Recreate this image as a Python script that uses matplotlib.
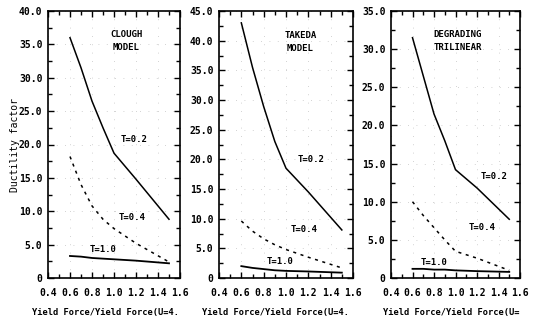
'''
Ductility factor against yield force ratio
for three hysteresis models
'''

###########################################
import numpy as np
import matplotlib.pyplot as plt
from matplotlib.ticker import MultipleLocator, FixedLocator


###########################################
# data

forceRatio=[0.6,0.7,0.8,0.9,1.0,1.2,1.5]

cloughT02=[36.0,31.5,26.5,22.5,18.7,14.8,8.8]
cloughT04=[18.2,14.0,10.8,8.8,7.4,5.2,2.4]
cloughT10=[3.3,3.2,3.0,2.9,2.8,2.6,2.2]

takedaT02=[43.0,35.5,28.9,23.0,18.5,14.5,8.1]
takedaT04=[9.6,7.9,6.6,5.6,4.8,3.5,1.7]
takedaT10=[2.0,1.7,1.5,1.3,1.2,1.1,0.9]

trilinT02=[31.5,26.5,21.5,18.0,14.2,11.8,7.7]
trilinT04=[10.0,8.2,6.6,5.0,3.5,2.6,1.0]
trilinT10=[1.2,1.2,1.1,1.1,1.0,0.9,0.8]

modelNames=['CLOUGH\nMODEL','TAKEDA\nMODEL','DEGRADING\nTRILINEAR']
yTop=[40.0,45.0,35.0]
periodLabels=['T=0.2','T=0.4','T=1.0']
# x labels are cut off in the scan
xLabels=['Yield Force/Yield Force(U=4.','Yield Force/Yield Force(U=4.','Yield Force/Yield Force(U=']


###########################################

def tickText(v):
  '''format y tick labels like the typewriter plot'''
  if(v==0):
    return '0'
  return '%.1f'%v


###########################################
# the main block

if __name__ == '__main__':
  font='DejaVu Sans Mono'
  plt.rcParams['font.family']=font
  plt.rcParams['font.weight']='bold'

  fig=plt.figure(figsize=(5.33,3.22),dpi=100)

  # axes positions in pixels (left,right) from the scan
  xPix=[(48,180),(219,353),(391,520)]
  top,bottom=11,278
  W,H=533.0,322.0

  series=[(cloughT02,cloughT04,cloughT10),
          (takedaT02,takedaT04,takedaT10),
          (trilinT02,trilinT04,trilinT10)]

  # text positions in data coords (x,y) for name and the three T labels
  namePos=[(1.11,35.5),(1.13,39.8),(1.02,31.1)]
  tPos=[[(1.18,20.7),(1.16,9.0),(0.90,4.2)],
        [(1.22,20.0),(1.16,8.1),(0.95,2.7)],
        [(1.36,13.3),(1.25,6.6),(0.80,2.0)]]

  for i in range(3):
    l,r=xPix[i]
    ax=fig.add_axes([l/W,1-bottom/H,(r-l)/W,(bottom-top)/H])
    t02,t04,t10=series[i]
    ax.plot(forceRatio,t02,color='black',lw=1.1)
    ax.plot(forceRatio,t04,color='black',lw=1.1,linestyle=(0,(2,3)))
    ax.plot(forceRatio,t10,color='black',lw=1.3)

    ax.set_xlim(0.4,1.6)
    ax.set_ylim(0,yTop[i])
    ax.xaxis.set_major_locator(FixedLocator([0.4,0.6,0.8,1.0,1.2,1.4,1.6]))
    ax.xaxis.set_minor_locator(MultipleLocator(0.1))
    ax.yaxis.set_major_locator(MultipleLocator(5))
    ax.yaxis.set_minor_locator(MultipleLocator(2.5))
    ax.set_xticklabels(['%.1f'%v for v in [0.4,0.6,0.8,1.0,1.2,1.4,1.6]])
    yt=np.arange(0,yTop[i]+0.1,5)
    ax.set_yticks(yt)
    ax.set_yticklabels([tickText(v) for v in yt])
    ax.tick_params(which='both',direction='in',top=True,right=True,
                   labelsize=7,width=1.0)
    ax.tick_params(which='major',length=4)
    ax.tick_params(which='minor',length=3)
    ax.tick_params(axis='x',pad=7)
    ax.tick_params(axis='y',pad=4)
    ax.grid(True,which='major',color='#c4c4c4',lw=0.6,linestyle=(0,(1,9)))
    for s in ax.spines.values():
      s.set_linewidth(1.2)

    ax.text(namePos[i][0],namePos[i][1],modelNames[i],ha='center',va='center',
            fontsize=6.5,linespacing=1.6)
    for j in range(3):
      ax.text(tPos[i][j][0],tPos[i][j][1],periodLabels[j],ha='center',va='center',fontsize=6.5)

    # x label, truncated as in the scan
    xStart=[32,202,383][i]
    fig.text(xStart/W,1-313/H,xLabels[i],ha='left',va='center',fontsize=6.3)

    if(i==0):
      ax.set_ylabel('Ductility factor',fontsize=7,labelpad=-1)

  plt.savefig('out.png',dpi=100)
  plt.close()
